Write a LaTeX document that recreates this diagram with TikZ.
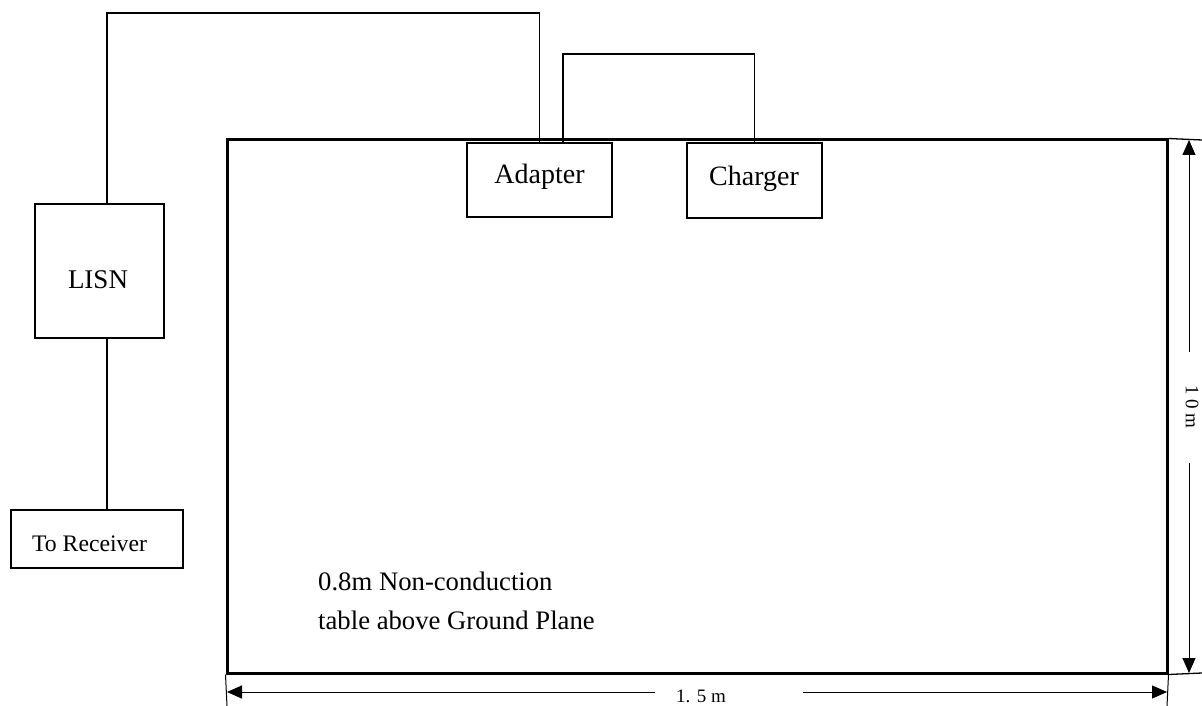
\documentclass[tikz,border=0pt]{standalone}
\usepackage{fontspec}
\setmainfont{Liberation Serif}
\usetikzlibrary{arrows.meta}
\begin{document}
\begin{tikzpicture}[x=1pt,y=-1pt,
  box/.style={draw,line width=1.3pt,inner sep=0pt,rectangle},
  lbl/.style={anchor=base,inner sep=0pt},
  wire/.style={line width=1.3pt},
  dimline/.style={line width=1pt},
  dimarrow/.style={line width=1pt,-{Triangle[length=15pt,width=13pt]}},
  big/.style={font=\fontsize{28}{33}\selectfont},
  lisnf/.style={font=\fontsize{27}{32}\selectfont},
  mid/.style={font=\fontsize{26.7}{31}\selectfont},
  small/.style={font=\fontsize{23.7}{28}\selectfont},
  dimtxt/.style={font=\fontsize{19}{22}\selectfont,inner sep=0pt}]
\useasboundingbox (0,0) rectangle (1202,706);
% table
\node[draw,line width=3pt,inner sep=0pt,minimum width=940pt,minimum height=533pt] (table) at (697,406.5) {};
% boxes
\node[box,minimum width=145pt,minimum height=74pt] (adapter) at (539.5,180) {};
\node[box,minimum width=135pt,minimum height=75pt] (charger) at (754.5,180.5) {};
\node[box,minimum width=129pt,minimum height=134pt] (lisn) at (99.5,271) {};
\node[box,minimum width=172pt,minimum height=58pt] (receiver) at (97,539) {};
% labels
\node[lbl,big] (tadapter) at (539.5,183) {Adapter};
\node[lbl,big] (tcharger) at (754,185) {Charger};
\node[lbl,lisnf] (tlisn) at (98,288) {LISN};
\node[lbl,small] (trecv) at (89.5,551) {To Receiver};
\node[anchor=base west,inner sep=0pt,mid] (t1) at (318,590) {0.8m Non-conduction};
\node[anchor=base west,inner sep=0pt,mid] (t2) at (318,629) {table above Ground Plane};
% wires
\coordinate (wtop) at (107,13);
\coordinate (loopL) at (563,54);
\draw[wire] (adapter.north) |- (wtop) -- ([xshift=7.5pt]lisn.north);
\draw[wire] ([xshift=7.5pt]lisn.south) -- ([xshift=7.5pt]lisn.south |- receiver.north);
\draw[wire] ([xshift=23.5pt]adapter.north) |- (loopL) -| (charger.north);
% extension lines
\coordinate (e1) at (1202,140);
\coordinate (e2) at (1202,673);
\coordinate (e3) at (227,706);
\coordinate (e4) at (1167,706);
\draw[line width=1.3pt] (table.north east) -- (e1);
\draw[line width=1.3pt] (table.south east) -- (e2);
\draw[dimline] (table.south west) -- (e3);
\draw[dimline] (table.south east) -- (e4);
% vertical dimension
\node[dimtxt,rotate=-90] (vdim) at (1192,407) {1 0 m};
\coordinate (v1) at (1189,352);
\coordinate (v1e) at (1189,140);
\coordinate (v2) at (1189,463);
\coordinate (v2e) at (1189,673);
\draw[dimarrow] (v1) -- (v1e);
\draw[dimarrow] (v2) -- (v2e);
% horizontal dimension
\node[dimtxt,anchor=base] (hdim) at (701,702) {1. 5 m};
\coordinate (h1) at (655,692);
\coordinate (h1e) at (227,692);
\coordinate (h2) at (803,692);
\coordinate (h2e) at (1167,692);
\draw[dimarrow] (h1) -- (h1e);
\draw[dimarrow] (h2) -- (h2e);
\end{tikzpicture}
\end{document}
